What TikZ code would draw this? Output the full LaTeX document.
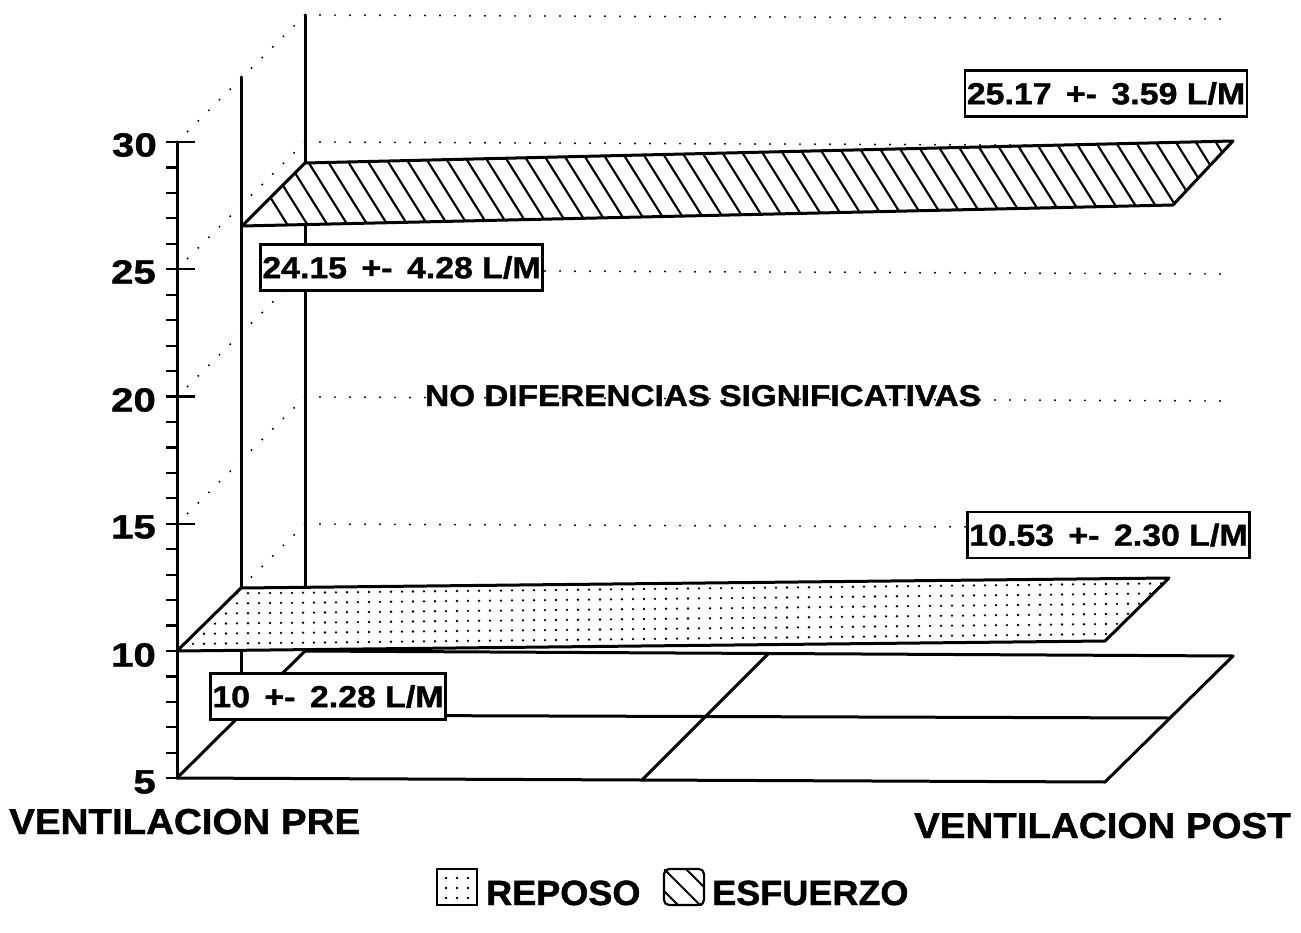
\documentclass[tikz,border=0pt]{standalone}
\usepackage{fontspec}
\newfontfamily\lblfont{Liberation Sans}[FakeStretch=1.11,FakeBold=1.2]
\newfontfamily\axfont{Liberation Sans}[FakeStretch=1.2,FakeBold=1.2]
\newfontfamily\catfont{Liberation Sans}[FakeStretch=1.07,FakeBold=1.2]
\newfontfamily\notefont{Liberation Sans}[FakeStretch=1.11,FakeBold=1.2]
\newfontfamily\legfont{Liberation Sans}[FakeStretch=1.03,FakeBold=1.2]
\tikzset{
  solidln/.style={line width=3pt, line cap=round, line join=round},
  gridd/.style={line width=2.2pt, dash pattern=on 0pt off 15pt, line cap=round},
  lbl/.style={draw, fill=white, line width=2.4pt, inner xsep=2pt, inner ysep=0pt,
    minimum height=46pt, font=\lblfont\bfseries\fontsize{30.5}{32}\selectfont},
  axl/.style={inner sep=0pt, font=\axfont\bfseries\fontsize{33.5}{36}\selectfont},
  catl/.style={inner sep=0pt, font=\catfont\bfseries\fontsize{36}{40}\selectfont},
  legl/.style={inner sep=0pt, font=\legfont\bfseries\fontsize{35}{38}\selectfont},
  notel/.style={inner sep=0pt, font=\notefont\bfseries\fontsize{30}{32}\selectfont},
  hatchln/.style={line width=2.1pt},
}
\begin{document}
\begin{tikzpicture}[x=1pt,y=-1pt]
\useasboundingbox (0,0) rectangle (1301,933);
\fill[white] (0,0) rectangle (1301,933);

% --- frame coordinates ---
\coordinate (ax0) at (177,142);  \coordinate (ax1) at (177,778);
\coordinate (mid0) at (241,77);  \coordinate (mid1) at (241,715);
\coordinate (bk0) at (305,15);   \coordinate (bk1) at (305,651);
% floor
\coordinate (fFL) at (177,778); \coordinate (fFR) at (1105,782);
\coordinate (fML) at (241,715); \coordinate (fMR) at (1169,718);
\coordinate (fBL) at (305,651); \coordinate (fBR) at (1233,656);
\coordinate (fCF) at (642,780); \coordinate (fCB) at (768,654);

% back wall dotted gridlines
\foreach \yy in {15,142,270,397,524}{
  \draw[gridd] (305,\yy) -- (1233,{\yy+4});
}
% side wall dotted diagonals
\foreach \yy in {142,269,397,524,651}{
  \draw[gridd] (177,\yy) -- (305,{\yy-127});
}

% verticals
\draw[solidln] (mid0) -- (mid1);
\draw[solidln] (bk0) -- (bk1);

% floor
\draw[solidln] (fFL) -- (fFR);
\draw[solidln] (fML) -- (fMR);
\draw[solidln] (fBL) -- (fBR);
\draw[solidln] (fFL) -- (fBL);
\draw[solidln] (fCF) -- (fCB);
\draw[solidln] (fFR) -- (fBR);

% y axis with ticks
\draw[solidln] (ax0) -- (ax1);
\foreach \v in {5,...,30}{
  \draw[line width=2.2pt] (166,{142+(30-\v)*25.45}) -- (177,{142+(30-\v)*25.45});
}
\foreach \v in {5,10,...,30}{
  \draw[line width=2.2pt] (166,{142+(30-\v)*25.45}) -- (195,{142+(30-\v)*25.45});
}

% --- REPOSO band (dotted) ---
\coordinate (rA) at (177,651); \coordinate (rB) at (241,588);
\coordinate (rC) at (1169,578); \coordinate (rD) at (1105,641);
\fill[white] (rA) -- (rB) -- (rC) -- (rD) -- cycle;
\begin{scope}
\clip (rA) -- (rB) -- (rC) -- (rD) -- cycle;
\foreach \r in {0,...,6}{
  \foreach \c in {0,...,90}{
    \fill ({182+11*\c},{594+10*\r-0.0108*11*\c}) circle (1.3);
  }
}
\end{scope}
\draw[solidln] (rA) -- (rB) -- (rC) -- (rD) -- cycle;

% --- ESFUERZO band (hatched) ---
\coordinate (eA) at (242,226); \coordinate (eB) at (305,163);
\coordinate (eC) at (1233,141); \coordinate (eD) at (1173,205);
\fill[white] (eA) -- (eB) -- (eC) -- (eD) -- cycle;
\begin{scope}
\clip (eA) -- (eB) -- (eC) -- (eD) -- cycle;
\foreach \i in {0,...,52}{
  \draw[hatchln] ({222+20*\i},120) -- ++(75,120);
}
\end{scope}
\draw[solidln] (eA) -- (eB) -- (eC) -- (eD) -- cycle;

% --- value labels ---
\node[lbl] (l1) at (1106,93.5) {25.17 \,+-\, 3.59 L/M};
\node[lbl] (l2) at (401.5,267.5) {24.15 \,+-\, 4.28 L/M};
\node[lbl] (l3) at (1108.5,535) {10.53 \,+-\, 2.30 L/M};
\node[lbl] (l4) at (328,696.5) {10 \,+-\, 2.28 L/M};

\node[notel, anchor=base west] (note) at (425,406) {NO DIFERENCIAS SIGNIFICATIVAS};

% --- axis labels ---
\node[axl, anchor=east] (t30) at (157,145) {30};
\node[axl, anchor=east] (t25) at (156,272) {25};
\node[axl, anchor=east] (t20) at (156,400) {20};
\node[axl, anchor=east] (t15) at (156,527) {15};
\node[axl, anchor=east] (t10) at (156,655) {10};
\node[axl, anchor=east] (t5) at (156,782) {5};

\node[catl, anchor=base west] (cpre) at (9,834) {VENTILACION PRE};
\node[catl, anchor=base east] (cpost) at (1291,838) {VENTILACION POST};

% --- legend ---
\coordinate (lg1a) at (437,869); \coordinate (lg1b) at (477,905);
\draw[line width=2.2pt] (lg1a) rectangle (lg1b);
\foreach \i in {0,1,2}{\foreach \j in {0,1,2}{
  \fill ({446+11*\i},{878+10*\j}) circle (1.3);}}
\node[legl, anchor=base west] (lrep) at (486,905) {REPOSO};

\coordinate (lg2a) at (664,869); \coordinate (lg2b) at (704,905);
\begin{scope}
\clip (lg2a) rectangle (lg2b);
\foreach \i in {-1,0,1}{
  \draw[hatchln] ({664+22*\i},869) -- ++(40,40);
}
\end{scope}
\draw[line width=2.2pt, rounded corners=5pt] (lg2a) rectangle (lg2b);
\node[legl, anchor=base west] (lesf) at (712,905) {ESFUERZO};
\end{tikzpicture}
\end{document}
